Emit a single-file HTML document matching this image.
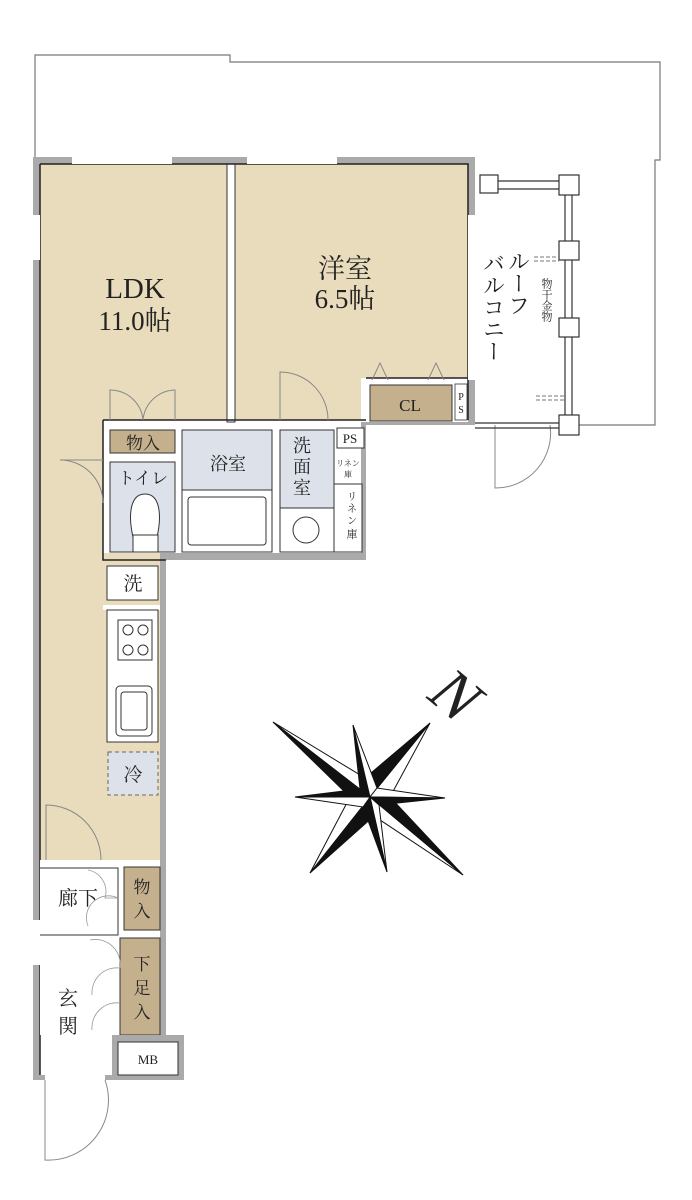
<!DOCTYPE html>
<html><head><meta charset="utf-8"><style>
html,body{margin:0;padding:0;background:#fff;}
svg{display:block;}
text{font-family:"Liberation Serif","Noto Serif CJK SC",serif;fill:#222;}
</style></head><body>
<svg width="692" height="1200" viewBox="0 0 692 1200" xmlns="http://www.w3.org/2000/svg">
<polyline points="35,160 35,55 230,55 230,62 660,62 660,160 655,160 655,425 572,425" fill="none" stroke="#777" stroke-width="1.2"/>
<path d="M33,157 H475 V425 H366 V560 H166 V1035 H184 V1080 H33 Z" fill="#aaa"/>
<path d="M40,164 H468 V420 H361 V553 H160 V1035 H112 V1075 H40 Z" fill="#fff"/>
<rect x="40" y="164" width="188" height="256" fill="#e8dcbc"/>
<rect x="40" y="420" width="63" height="440" fill="#e8dcbc"/>
<rect x="103" y="553" width="57" height="307" fill="#e8dcbc"/>
<rect x="234" y="164" width="234" height="256" fill="#e8dcbc"/>
<rect x="361" y="378" width="107" height="44" fill="#fff"/>
<rect x="227" y="164" width="8" height="258" fill="#fff" stroke="#333" stroke-width="1"/>
<g fill="none" stroke="#222" stroke-width="1.5">
<path d="M40,164 H468 V420"/>
<path d="M40,164 V1075"/>
<path d="M103,420 H366 M103,420 V560 H166"/>
<path d="M366,378 H468"/>
</g>
<g fill="#fff">
<rect x="72" y="157" width="100" height="7"/>
<rect x="247" y="157" width="90" height="7"/>
<rect x="33" y="215" width="7" height="45"/>
<rect x="33" y="920" width="7" height="45"/>
<rect x="468" y="215" width="7" height="165"/>
<rect x="45" y="1075" width="60" height="5"/>
</g>
<g fill="none" stroke="#888" stroke-width="1">
<path d="M110,420 V390 A33,33 0 0 1 143,420"/>
<path d="M175,420 V390 A33,33 0 0 0 143,420"/>
<path d="M280,420 V372 A48,48 0 0 1 328,420"/>
<path d="M372,380 L380,363 L388,380 M428,380 L436,363 L444,380"/>
<path d="M103,460 H60 A43,43 0 0 1 103,503"/>
<path d="M46,860 V805 A55,55 0 0 1 101,860"/>
<path d="M45,1080 V1160 A60,60 0 0 0 105,1080"/>
<path d="M495,425 V488 A55,55 0 0 0 550,425"/>
<path d="M334,455 H313 A24,24 0 0 0 334,478"/>
<path d="M334,486 H313 A24,24 0 0 0 334,508"/>
</g>
<rect x="110" y="430" width="65" height="23" fill="#c5b08e" stroke="#333"/>
<text x="143" y="449" font-size="17" text-anchor="middle">物入</text>
<rect x="110" y="462" width="65" height="90" fill="#dde1ea" stroke="#333"/>
<text x="143" y="484" font-size="17" text-anchor="middle">トイレ</text>
<path d="M133,537 C128,515 130,494 145,494 C160,494 162,515 157,537 Z" fill="#fff" stroke="#333"/>
<rect x="133" y="535" width="25" height="17" fill="#fff" stroke="#333"/>
<rect x="182" y="430" width="90" height="60" fill="#dde1ea" stroke="#333"/>
<text x="228" y="470" font-size="18" text-anchor="middle">浴室</text>
<rect x="182" y="490" width="90" height="62" fill="#fff" stroke="#333"/>
<rect x="188" y="497" width="78" height="48" rx="3" fill="#fff" stroke="#333"/>
<rect x="280" y="430" width="54" height="78" fill="#dde1ea" stroke="#333"/>
<text x="302" y="452" font-size="18" text-anchor="middle">洗</text>
<text x="302" y="473" font-size="18" text-anchor="middle">面</text>
<text x="302" y="494" font-size="18" text-anchor="middle">室</text>
<rect x="280" y="508" width="54" height="44" fill="#fff" stroke="#333"/>
<circle cx="306" cy="530" r="13" fill="#fff" stroke="#333"/>
<rect x="337" y="428" width="27" height="20" fill="#fff" stroke="#333"/>
<text x="350" y="443" font-size="13" text-anchor="middle">PS</text>
<rect x="334" y="484" width="28" height="68" fill="#fff" stroke="#333"/>
<text x="348" y="466" font-size="8" text-anchor="middle">リネン</text>
<text x="348" y="477" font-size="8" text-anchor="middle">庫</text>
<text x="352" y="500" font-size="10" text-anchor="middle">リ</text>
<text x="352" y="512" font-size="10" text-anchor="middle">ネ</text>
<text x="352" y="524" font-size="10" text-anchor="middle">ン</text>
<text x="352" y="538" font-size="11" text-anchor="middle">庫</text>
<rect x="370" y="385" width="82" height="36" fill="#c5b08e" stroke="#333"/>
<text x="410" y="411" font-size="17" text-anchor="middle">CL</text>
<rect x="455" y="384" width="12" height="36" fill="#fff" stroke="#333" stroke-width="0.8"/>
<text x="461" y="400" font-size="10" text-anchor="middle">P</text>
<text x="461" y="413" font-size="10" text-anchor="middle">S</text>
<rect x="107" y="566" width="51" height="34" fill="#fff" stroke="#333"/>
<text x="133" y="590" font-size="19" text-anchor="middle">洗</text>
<rect x="103" y="605" width="57" height="5" fill="#fff"/>
<rect x="107" y="610" width="51" height="132" fill="#fff" stroke="#333"/>
<rect x="118" y="620" width="34" height="40" fill="#fff" stroke="#333"/>
<circle cx="128" cy="630" r="5" fill="none" stroke="#333"/><circle cx="143" cy="630" r="5" fill="none" stroke="#333"/>
<circle cx="128" cy="650" r="5" fill="none" stroke="#333"/><circle cx="143" cy="650" r="5" fill="none" stroke="#333"/>
<rect x="116" y="686" width="36" height="50" rx="4" fill="#fff" stroke="#333"/>
<rect x="121" y="692" width="26" height="38" rx="3" fill="#fff" stroke="#333"/>
<rect x="108" y="752" width="50" height="43" fill="#dde1ea" stroke="#666" stroke-dasharray="4,3"/>
<text x="133" y="781" font-size="19" text-anchor="middle">冷</text>
<text x="135" y="298" font-size="29" text-anchor="middle">LDK</text>
<text x="135" y="330" font-size="27" text-anchor="middle">11.0帖</text>
<text x="345" y="278" font-size="27" text-anchor="middle">洋室</text>
<text x="345" y="308" font-size="27" text-anchor="middle">6.5帖</text>
<rect x="40" y="860" width="120" height="175" fill="#fff"/>
<path d="M40,868 H118 V935 H40" fill="none" stroke="#333"/>
<rect x="124" y="867" width="36" height="63" fill="#c5b08e" stroke="#333"/>
<text x="142" y="893" font-size="17" text-anchor="middle">物</text>
<text x="142" y="917" font-size="17" text-anchor="middle">入</text>
<rect x="120" y="938" width="40" height="97" fill="#c5b08e" stroke="#333"/>
<text x="142" y="970" font-size="17" text-anchor="middle">下</text>
<text x="142" y="994" font-size="17" text-anchor="middle">足</text>
<text x="142" y="1018" font-size="17" text-anchor="middle">入</text>
<text x="78" y="905" font-size="20" text-anchor="middle">廊下</text>
<text x="68" y="1005" font-size="20" text-anchor="middle">玄</text>
<text x="68" y="1033" font-size="20" text-anchor="middle">関</text>
<g fill="none" stroke="#999" stroke-width="0.8">
<path d="M118,898 H105 A22,22 0 0 0 88,870 M118,898 A22,22 0 0 0 88,926"/>
<path d="M120,968 A25,25 0 0 0 90,940 M120,968 A25,25 0 0 0 92,995 M120,1003 A25,25 0 0 0 92,1030"/>
</g>
<rect x="112" y="1035" width="72" height="45" fill="#aaa"/>
<rect x="118" y="1042" width="60" height="33" fill="#fff" stroke="#333"/>
<text x="148" y="1064" font-size="13" text-anchor="middle">MB</text>
<g fill="none" stroke="#333" stroke-width="1.2">
<path d="M497,181 H560 M497,189 H560"/>
<path d="M565,194 V415 M572,194 V415"/>
<path d="M475,423 H560 M475,428 H560"/>
</g>
<g fill="#fff" stroke="#333" stroke-width="1.2">
<rect x="480" y="175" width="18" height="18"/>
<rect x="559" y="175" width="20" height="20"/>
<rect x="559" y="241" width="20" height="19"/>
<rect x="559" y="318" width="20" height="19"/>
<rect x="559" y="415" width="20" height="20"/>
</g>
<g stroke="#777" stroke-dasharray="4,2"><path d="M534,257 H559 M534,261 H559 M536,396 H565 M536,400 H565"/></g>
<text x="493" y="252" font-size="22" writing-mode="tb">バルコニー</text>
<text x="518" y="250" font-size="22" writing-mode="tb">ルーフ</text>
<text x="546" y="300" font-size="11" text-anchor="middle" writing-mode="tb" fill="#555">物干金物</text>
<g stroke="#111" stroke-width="1" stroke-linejoin="miter">
<polygon points="273,722 370,797 365,778" fill="#fff"/>
<polygon points="273,722 370,797 350,797" fill="#111"/>
<polygon points="430,723 370,797 390,797" fill="#fff"/>
<polygon points="430,723 370,797 365,778" fill="#111"/>
<polygon points="463,875 370,797 374,816" fill="#fff"/>
<polygon points="463,875 370,797 390,797" fill="#111"/>
<polygon points="310,873 370,797 350,797" fill="#fff"/>
<polygon points="310,873 370,797 374,816" fill="#111"/>
<polygon points="353,725 370,797 360,789" fill="#111"/>
<polygon points="353,725 370,797 377,788" fill="#fff"/>
<polygon points="445,798 370,797 377,788" fill="#fff"/>
<polygon points="445,798 370,797 379,805" fill="#111"/>
<polygon points="387,872 370,797 379,805" fill="#fff"/>
<polygon points="387,872 370,797 363,807" fill="#111"/>
<polygon points="295,797 370,797 363,807" fill="#fff"/>
<polygon points="295,797 370,797 360,789" fill="#111"/>
</g>
<text x="455" y="716" font-size="64" font-style="italic" text-anchor="middle" transform="rotate(40 455 696)" fill="#111">N</text>
</svg>
</body></html>
